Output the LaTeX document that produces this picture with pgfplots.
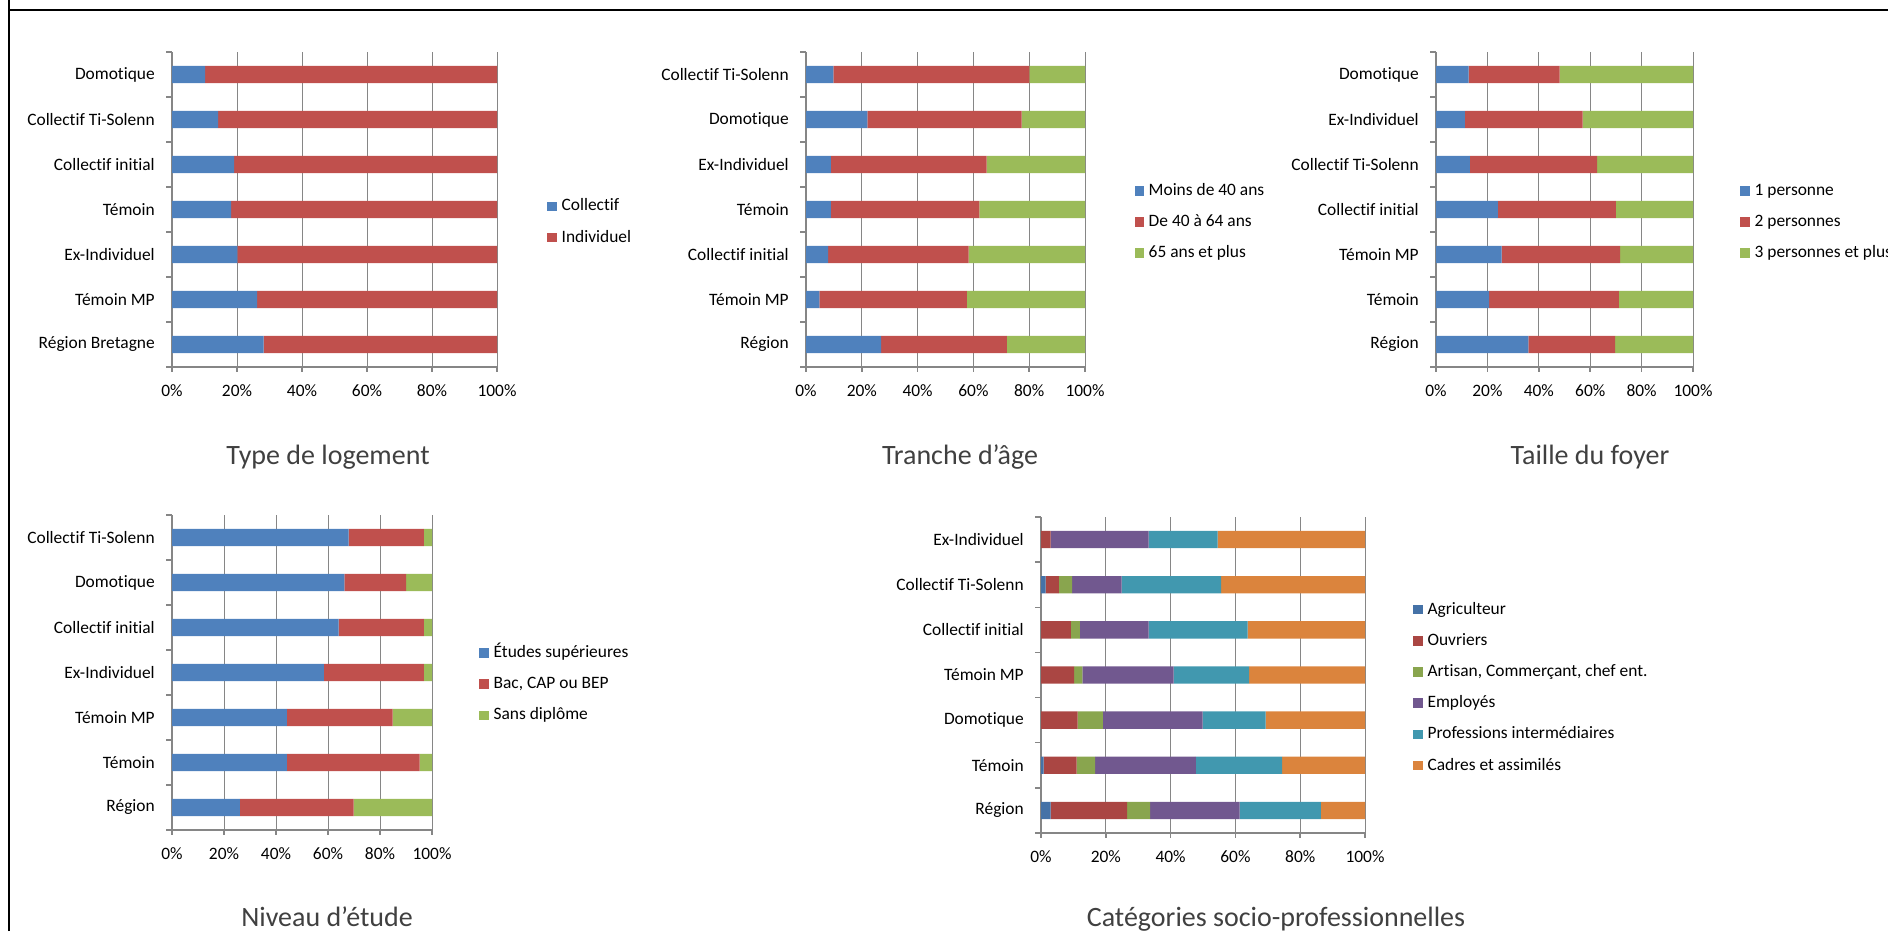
\documentclass[border=0pt]{standalone}
\usepackage{fontspec}
\setmainfont{Carlito}[Ligatures={NoCommon}]
\usepackage{pgfplots}
\usepackage{pgfplotstable}
\pgfplotsset{compat=1.18}

\definecolor{cblue}{HTML}{4F81BD}
\definecolor{cred}{HTML}{C0504D}
\definecolor{cgreen}{HTML}{9BBB59}
\definecolor{dblue}{HTML}{4572A7}
\definecolor{dred}{HTML}{AA4643}
\definecolor{dgreen}{HTML}{89A54E}
\definecolor{dpurple}{HTML}{71588F}
\definecolor{dteal}{HTML}{4198AF}
\definecolor{dorange}{HTML}{DB843D}
\definecolor{axgrey}{HTML}{868686}

\pgfplotstableread{
y a b
0 28.2 71.8
1 26.2 73.8
2 20.1 79.9
3 18.2 81.8
4 19.1 80.9
5 14.2 85.8
6 10.2 89.8
}\tlog

\pgfplotstableread{
y a b c
0 26.9 45.1 28.0
1 4.8 52.9 42.3
2 7.9 50.4 41.7
3 8.9 53.2 37.9
4 8.9 55.8 35.3
5 22.0 55.3 22.7
6 9.8 70.3 19.9
}\tage

\pgfplotstableread{
y a b c
0 35.9 33.8 30.3
1 20.7 50.4 28.9
2 25.5 46.1 28.4
3 24.1 45.9 30.0
4 13.2 49.5 37.3
5 11.2 45.8 43.0
6 12.7 35.4 51.9
}\tfoyer

\pgfplotstableread{
y a b c
0 26.1 43.8 30.1
1 44.2 51.0 4.8
2 44.2 40.7 15.1
3 58.4 38.5 3.1
4 64.1 32.8 3.1
5 66.3 23.7 10.0
6 67.9 29.0 3.1
}\tetude

\pgfplotstableread{
y a b c d e f
0 3.0 23.6 7.1 27.6 25.1 13.6
1 0.8 10.2 5.7 31.1 26.6 25.6
2 0.0 11.3 7.8 30.8 19.4 30.7
3 0.0 10.2 2.6 28.1 23.3 35.8
4 0.0 9.2 2.8 21.2 30.6 36.2
5 1.4 4.1 4.1 15.3 30.7 44.4
6 0.0 3.0 0.0 30.2 21.3 45.5
}\tcsp

\pgfplotsset{
  panel/.style={
    scale only axis,
    xbar stacked,
    bar width=8.65pt,
    xmin=0, xmax=100, ymin=-0.5, ymax=6.5,
    axis x line*=bottom, axis y line*=left,
    axis line style={draw=axgrey, line width=0.75pt, -},
    xtick={0,20,...,100},
    xticklabel={\pgfmathprintnumber{\tick}\%},
    ytick={0,...,6},
    minor ytick={-0.5,0.5,...,6.5},
    tick align=outside,
    major tick length=2.5pt, minor tick length=3pt,
    major x tick style={draw=axgrey, line width=0.75pt},
    major y tick style={draw=none},
    minor y tick style={draw=axgrey, line width=0.75pt},
    xmajorgrids, grid style={draw=axgrey, line width=0.5pt},
    /pgf/number format/assume math mode=true,
    tick label style={font=\fontsize{8.7}{10}\selectfont, text=black},
    yticklabel style={xshift=-2.6pt},
    xticklabel style={yshift=-3pt},
    legend style={draw=none, fill=none, inner sep=0pt, anchor=west,
      font=\fontsize{8.7}{10}\selectfont, row sep=7.5pt,
      nodes={inner sep=0pt, text height=6.3pt, text depth=1.8pt},
      /tikz/every odd column/.style={column sep=2.5pt}},
    legend cell align=left,
    legend image code/.code={\fill[##1] (0pt,-2.4pt) rectangle (4.6pt,2.4pt);},
    every axis plot/.append style={draw=none},
  }
}

\begin{document}
\begin{tikzpicture}
\useasboundingbox (0,0) rectangle (944pt,465.5pt);
\draw[line width=1pt] (4.5pt,465.5pt) -- (4.5pt,460.5pt) -- (944pt,460.5pt);
\draw[line width=1pt] (4.5pt,0pt) -- (4.5pt,460.5pt);

% Panel 1
\begin{axis}[panel, at={(86pt,282pt)}, anchor=south west, width=162.5pt, height=157.5pt,
  yticklabels={Région Bretagne,Témoin MP,Ex-Individuel,Témoin,Collectif initial,Collectif Ti-Solenn,Domotique},
  legend style={at={(1.154,0.46)}}]
\addplot[fill=cblue] table[x=a,y=y] {\tlog};
\addplot[fill=cred] table[x=b,y=y] {\tlog};
\legend{Collectif,Individuel}
\end{axis}

% Panel 2
\begin{axis}[panel, at={(403pt,282pt)}, anchor=south west, width=139.5pt, height=157.5pt,
  yticklabels={Région\hspace{2pt},Témoin MP,Collectif initial,Témoin,Ex-Individuel,Domotique,Collectif Ti-Solenn},
  legend style={at={(1.176,0.46)}}]
\addplot[fill=cblue] table[x=a,y=y] {\tage};
\addplot[fill=cred] table[x=b,y=y] {\tage};
\addplot[fill=cgreen] table[x=c,y=y] {\tage};
\legend{Moins de 40 ans,De 40 à 64 ans,65 ans et plus}
\end{axis}

% Panel 3
\begin{axis}[panel, at={(718pt,282pt)}, anchor=south west, width=128.5pt, height=157.5pt,
  yticklabels={Région\hspace{2pt},Témoin,Témoin MP,Collectif initial,Collectif Ti-Solenn,Ex-Individuel,Domotique},
  legend style={at={(1.183,0.46)}}]
\addplot[fill=cblue] table[x=a,y=y] {\tfoyer};
\addplot[fill=cred] table[x=b,y=y] {\tfoyer};
\addplot[fill=cgreen] table[x=c,y=y] {\tfoyer};
\legend{1 personne,2 personnes,3 personnes et plus}
\end{axis}

% Panel 4
\begin{axis}[panel, at={(86pt,50.5pt)}, anchor=south west, width=130pt, height=157.5pt,
  yticklabels={Région\hspace{2pt},Témoin,Témoin MP,Ex-Individuel,Collectif initial,Domotique,Collectif Ti-Solenn},
  legend style={at={(1.181,0.463)}}]
\addplot[fill=cblue] table[x=a,y=y] {\tetude};
\addplot[fill=cred] table[x=b,y=y] {\tetude};
\addplot[fill=cgreen] table[x=c,y=y] {\tetude};
\legend{Études supérieures,{Bac, CAP ou BEP},Sans diplôme}
\end{axis}

% Panel 5
\begin{axis}[panel, at={(520.5pt,49pt)}, anchor=south west, width=162pt, height=158pt,
  yticklabels={Région\hspace{2pt},Témoin,Domotique,Témoin MP,Collectif initial,Collectif Ti-Solenn,Ex-Individuel},
  legend style={at={(1.148,0.46)}}]
\addplot[fill=dblue] table[x=a,y=y] {\tcsp};
\addplot[fill=dred] table[x=b,y=y] {\tcsp};
\addplot[fill=dgreen] table[x=c,y=y] {\tcsp};
\addplot[fill=dpurple] table[x=d,y=y] {\tcsp};
\addplot[fill=dteal] table[x=e,y=y] {\tcsp};
\addplot[fill=dorange] table[x=f,y=y] {\tcsp};
\legend{Agriculteur,Ouvriers,{Artisan, Commerçant, chef ent.},Employés,Professions intermédiaires,Cadres et assimilés}
\end{axis}

\node[anchor=base, font=\fontsize{14}{16}\selectfont, text=black!75] at (164pt,233pt) {Type de logement};
\node[anchor=base, font=\fontsize{14}{16}\selectfont, text=black!75] at (480pt,233pt) {Tranche d’âge};
\node[anchor=base, font=\fontsize{14}{16}\selectfont, text=black!75] at (795pt,233pt) {Taille du foyer};
\node[anchor=base, font=\fontsize{14}{16}\selectfont, text=black!75] at (163.5pt,2.5pt) {Niveau d’étude};
\node[anchor=base, font=\fontsize{14}{16}\selectfont, text=black!75] at (638pt,2.5pt) {Catégories socio-professionnelles};
\end{tikzpicture}
\end{document}
